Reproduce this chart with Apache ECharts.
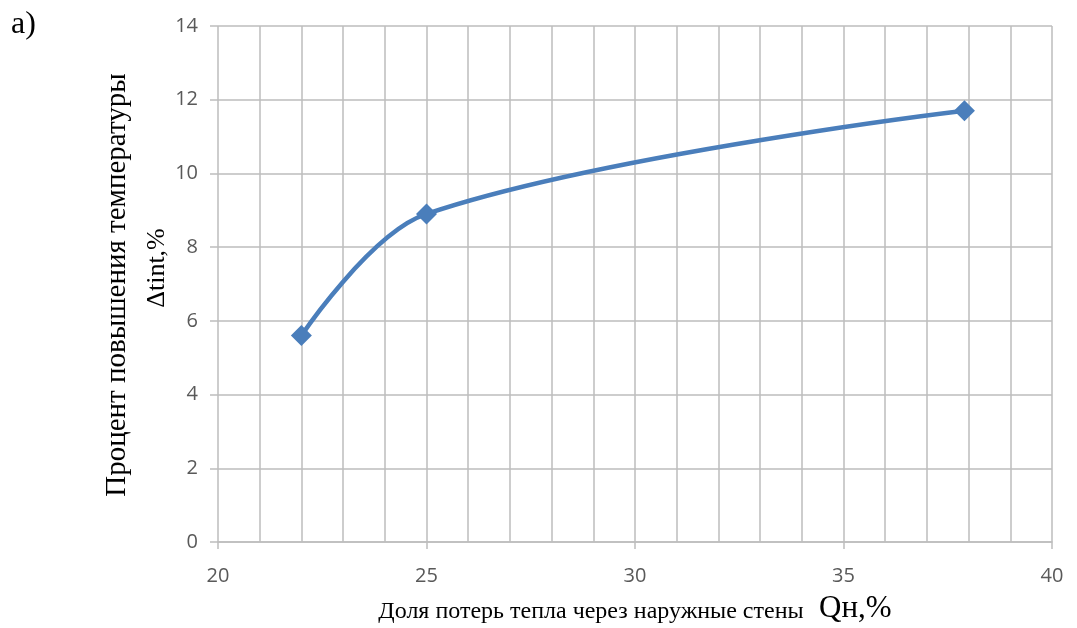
<!DOCTYPE html>
<html>
<head>
<meta charset="utf-8">
<script src="https://cdn.jsdelivr.net/npm/echarts@6/dist/echarts.min.js"></script>
<style>
  html, body { margin: 0; padding: 0; background: #fff; }
  #chart { width: 1077px; height: 628px; }
</style>
</head>
<body>
<div id="chart"></div>
<script>
// Share of heat loss through external walls (x) vs. temperature rise (y)
const heatLossShare = [22, 25, 37.9];
const tempRise = [5.6, 8.9, 11.7];
const xTicks = [20, 25, 30, 35, 40];
const yTicks = [0, 2, 4, 6, 8, 10, 12, 14];
const yTitle = ['Процент повышения температуры', 'Δtint,%'];
const xTitle = ['Доля потерь тепла через наружные стены', 'Qн,%'];

const gridColor = '#bdbdbd';
const labelColor = '#595959';
const serif = '"Liberation Serif", "Times New Roman", serif';

const chart = echarts.init(document.getElementById('chart'));
chart.setOption({
  animation: false,
  backgroundColor: '#ffffff',
  grid: { left: 218, right: 25, top: 26, bottom: 86, outerBoundsMode: 'none', containLabel: false },
  graphic: [
    {
      type: 'text',
      left: 11,
      top: 9,
      style: { text: 'a)', font: '32px ' + serif, fill: '#000' }
    },
    {
      type: 'text',
      x: 117, y: 285,
      rotation: Math.PI / 2,
      style: { text: yTitle[0], font: '29px ' + serif, fill: '#000', align: 'center', verticalAlign: 'middle' }
    },
    {
      type: 'text',
      x: 157, y: 268,
      rotation: Math.PI / 2,
      style: { text: yTitle[1], font: '26px ' + serif, fill: '#000', align: 'center', verticalAlign: 'middle' }
    }
  ],
  xAxis: {
    type: 'value',
    min: xTicks[0],
    max: xTicks[xTicks.length - 1],
    interval: 5,
    axisLine: { show: true, lineStyle: { color: gridColor, width: 1.5 } },
    axisTick: { show: true, length: 7, lineStyle: { color: gridColor, width: 1.5 } },
    axisLabel: { color: labelColor, fontSize: 20, fontFamily: 'Open Sans', margin: 24 },
    splitLine: { show: true, lineStyle: { color: gridColor, width: 1.5 } },
    minorTick: { show: false, splitNumber: 5 },
    minorSplitLine: { show: true, lineStyle: { color: gridColor, width: 1.5 } },
    name: '{a|' + xTitle[0] + '}{b|  ' + xTitle[1] + '}',
    nameLocation: 'middle',
    nameGap: 51,
    nameTextStyle: {
      rich: {
        a: { fontFamily: serif, fontSize: 24, color: '#000', verticalAlign: 'bottom' },
        b: { fontFamily: serif, fontSize: 31, color: '#000', verticalAlign: 'bottom' }
      }
    }
  },
  yAxis: {
    type: 'value',
    min: yTicks[0],
    max: yTicks[yTicks.length - 1],
    interval: 2,
    axisLine: { show: false },
    axisTick: { show: true, length: 8, lineStyle: { color: gridColor, width: 1.5 } },
    axisLabel: { color: labelColor, fontSize: 20, fontFamily: 'Open Sans', margin: 20 },
    splitLine: { show: true, lineStyle: { color: gridColor, width: 1.5 } }
  },
  series: [{
    type: 'line',
    data: heatLossShare.map((x, i) => [x, tempRise[i]]),
    smooth: 0.35,
    symbol: 'diamond',
    symbolSize: 21,
    lineStyle: { color: '#4a7ebb', width: 4.5 },
    itemStyle: { color: '#4a7ebb' }
  }]
});
</script>
</body>
</html>
